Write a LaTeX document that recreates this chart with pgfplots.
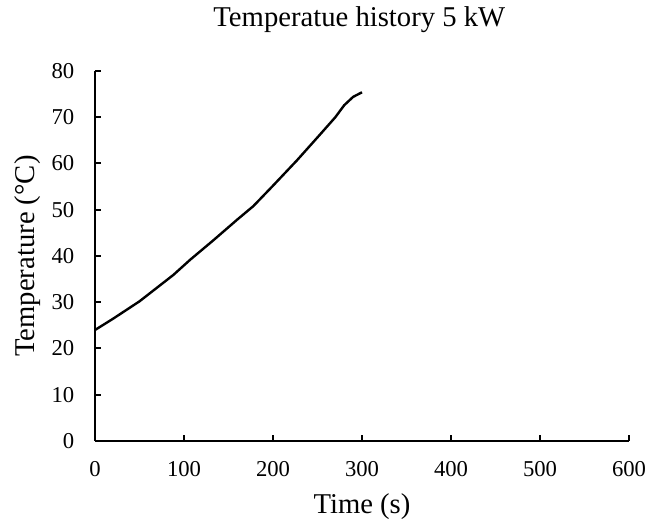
\documentclass[border=0pt]{standalone}
\usepackage{fontspec}
\setmainfont{Liberation Serif}
\usepackage{pgfplots}
\pgfplotsset{compat=1.18}
\begin{document}
\begin{tikzpicture}
\begin{axis}[
  scale only axis, width=400.5pt, height=277.5pt,
  xmin=0, xmax=600, ymin=0, ymax=80,
  xtick={0,100,...,600}, ytick={0,10,...,80},
  axis lines*=left,
  tick align=inside, major tick length=4.5pt,
  axis line style={line width=1.6pt, black},
  tick style={line width=1.5pt, black},
  /pgf/number format/assume math mode=true,
  ticklabel style={font=\fontsize{17}{19}\selectfont},
  xticklabel style={yshift=-12pt},
  yticklabel style={xshift=-12pt},
  xlabel={Time (s)}, ylabel={Temperature (°C)},
  label style={font=\fontsize{21.5}{25}\selectfont},
  xlabel style={at={(axis description cs:0.5,-0.1784)}, anchor=center},
  ylabel style={at={(axis description cs:-0.1255,0.5)}, anchor=center},
  clip=false,
]
\addplot[black, line width=1.8pt] coordinates {
(0,24.0) (20,26.4) (50,30.2) (62,32.0) (88,35.9) (107,39.2) (133,43.4)
(160,47.9) (178,50.8) (200,55.2) (227,60.7) (253,66.3) (270,70.0)
(280,72.6) (290,74.4) (300,75.4)
};
\node[font=\fontsize{21.5}{25}\selectfont, anchor=center] at (rel axis cs:0.495,1.1378) {Temperatue history 5 kW};
\coordinate (bl) at (rel axis cs:0,0);
\coordinate (tr) at (rel axis cs:1,1);
\end{axis}
\pgfresetboundingbox
\path ([shift={(-71.25pt,-66pt)}]bl) rectangle ([shift={(27pt,53.25pt)}]tr);
\end{tikzpicture}
\end{document}
